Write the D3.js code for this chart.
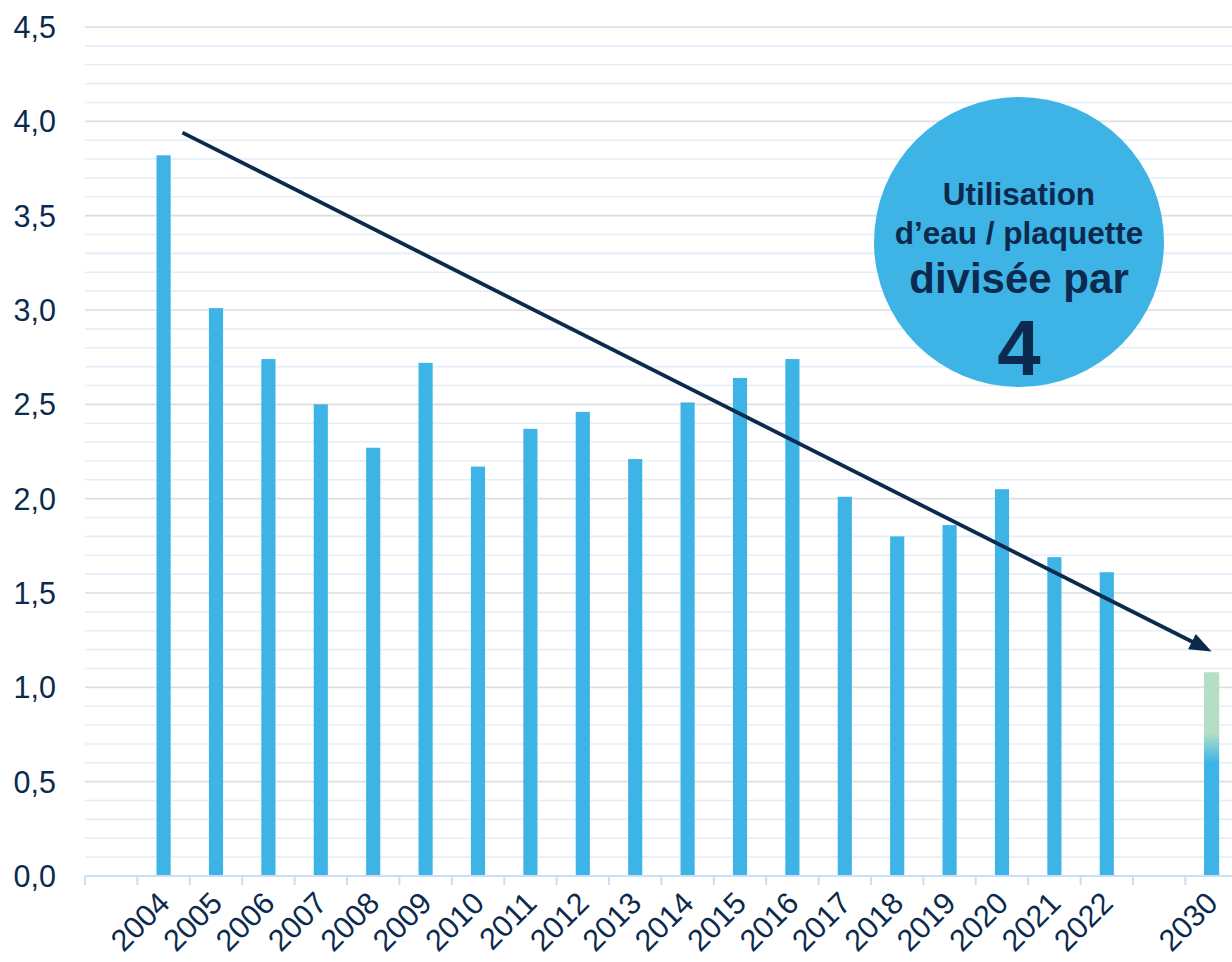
<!DOCTYPE html>
<html>
<head>
<meta charset="utf-8">
<script src="https://cdn.jsdelivr.net/npm/d3@7"></script>
<style>
  body { margin: 0; background: #fff; }
  text { font-family: "Liberation Sans", Arial, sans-serif; }
</style>
</head>
<body>
<svg id="chart" width="1232" height="962"></svg>
<script>
// categories on the x axis ('_' entries are empty slots)
var categories = ['_a', '2004', '2005', '2006', '2007', '2008', '2009', '2010', '2011', '2012',
  '2013', '2014', '2015', '2016', '2017', '2018', '2019', '2020', '2021', '2022', '_b', '2030'];

var historyYears = ['2004', '2005', '2006', '2007', '2008', '2009', '2010', '2011', '2012', '2013',
  '2014', '2015', '2016', '2017', '2018', '2019', '2020', '2021', '2022'];
var historyValues = [3.82, 3.01, 2.74, 2.50, 2.27, 2.72, 2.17, 2.37, 2.46, 2.21,
  2.51, 2.64, 2.74, 2.01, 1.80, 1.86, 2.05, 1.69, 1.61];

var targetYear = '2030';
var targetBase = 0.6;
var targetFade = 0.76;
var targetTop = 1.08;

var yTicks = [0, 0.5, 1, 1.5, 2, 2.5, 3, 3.5, 4, 4.5];

var trend = [
  { year: '2004', frac: 0.86, value: 3.94 },
  { year: '2030', frac: 0.5, value: 1.19 }
];

var bubbleLines = [
  { text: 'Utilisation', size: 31.5, dy: -37 },
  { text: 'd\u2019eau / plaquette', size: 31.5, dy: 2 },
  { text: 'divisée par', size: 42, dy: 51 },
  { text: '4', size: 78, dy: 133 }
];

var blue = '#3db4e5';
var navy = '#0c2a4d';

var svg = d3.select('#chart');
var left = 85;

var x = d3.scaleBand()
  .domain(categories)
  .range([left, left + 52.4 * categories.length])
  .paddingInner(0.73)
  .paddingOuter(0.365);

var y = d3.scaleLinear().domain([0, 4.5]).range([876, 27]);

// gridlines
var minor = d3.range(0, 45).map(function (i) { return i / 10; })
  .filter(function (v) { return Math.round(v * 10) % 5 !== 0; });

svg.append('g').selectAll('line.minor')
  .data(minor)
  .enter().append('line')
  .attr('x1', left).attr('x2', 1232)
  .attr('y1', function (d) { return y(d); })
  .attr('y2', function (d) { return y(d); })
  .attr('stroke', '#e4eefa')
  .attr('stroke-width', 1.6);

svg.append('g').selectAll('line.major')
  .data(yTicks.filter(function (d) { return d > 0; }))
  .enter().append('line')
  .attr('x1', left).attr('x2', 1232)
  .attr('y1', function (d) { return y(d); })
  .attr('y2', function (d) { return y(d); })
  .attr('stroke', '#dedede')
  .attr('stroke-width', 1.6);

// y labels
svg.append('g').selectAll('text')
  .data(yTicks)
  .enter().append('text')
  .attr('x', 56)
  .attr('y', function (d) { return y(d) + 11; })
  .attr('text-anchor', 'end')
  .attr('font-size', 30.5)
  .attr('fill', navy)
  .text(function (d) { return d3.format('.1f')(d).replace('.', ','); });

// gradient for the 2030 target
var defs = svg.append('defs');
var grad = defs.append('linearGradient')
  .attr('id', 'target')
  .attr('x1', 0).attr('y1', 0).attr('x2', 0).attr('y2', 1);
var span = targetTop;
grad.append('stop').attr('offset', (targetTop - targetFade) / span).attr('stop-color', '#b4dfc6');
grad.append('stop').attr('offset', (targetTop - targetBase) / span).attr('stop-color', blue);
grad.append('stop').attr('offset', 1).attr('stop-color', blue);

// bars
svg.append('g').selectAll('rect')
  .data(historyYears)
  .enter().append('rect')
  .attr('x', function (d) { return x(d); })
  .attr('width', x.bandwidth())
  .attr('y', function (d, i) { return y(historyValues[i]); })
  .attr('height', function (d, i) { return y(0) - y(historyValues[i]); })
  .attr('fill', blue);

svg.append('rect')
  .attr('x', x(targetYear) - 0.5)
  .attr('width', x.bandwidth() + 1)
  .attr('y', y(targetTop))
  .attr('height', y(0) - y(targetTop))
  .attr('fill', 'url(#target)');

// x axis
var y0 = y(0);
svg.append('line')
  .attr('x1', left).attr('x2', 1232)
  .attr('y1', y0).attr('y2', y0)
  .attr('stroke', '#c8defa').attr('stroke-width', 2);

svg.append('g').selectAll('line')
  .data(d3.range(0, categories.length + 1))
  .enter().append('line')
  .attr('x1', function (i) { return left + x.step() * i; })
  .attr('x2', function (i) { return left + x.step() * i; })
  .attr('y1', y0).attr('y2', y0 + 9)
  .attr('stroke', '#c8defa').attr('stroke-width', 2);

svg.append('g').selectAll('text')
  .data(categories.filter(function (c) { return c[0] !== '_'; }))
  .enter().append('text')
  .attr('transform', function (d) {
    return 'translate(' + (x(d) + x.bandwidth() / 2 + 8) + ',' + (y0 + 29) + ') rotate(-45)';
  })
  .attr('text-anchor', 'end')
  .attr('font-size', 30.5)
  .attr('fill', navy)
  .text(function (d) { return d; });

// trend arrow
var p0 = [x(trend[0].year) - x.step() * x.paddingOuter() + x.step() * trend[0].frac, y(trend[0].value)];
var p1 = [x(trend[1].year) + x.bandwidth() / 2, y(trend[1].value)];
var ang = Math.atan2(p1[1] - p0[1], p1[0] - p0[0]);
var headLen = 22, headW = 8.5;
var base = [p1[0] - headLen * Math.cos(ang), p1[1] - headLen * Math.sin(ang)];

svg.append('line')
  .attr('x1', p0[0]).attr('y1', p0[1])
  .attr('x2', base[0] + 2 * Math.cos(ang)).attr('y2', base[1] + 2 * Math.sin(ang))
  .attr('stroke', navy).attr('stroke-width', 3.8);

svg.append('path')
  .attr('d', 'M' + p1 + 'L' + [base[0] - headW * Math.sin(ang), base[1] + headW * Math.cos(ang)] +
    'L' + [base[0] + headW * Math.sin(ang), base[1] - headW * Math.cos(ang)] + 'Z')
  .attr('fill', navy);

// bubble
var cx = 1019, cy = 242;
svg.append('circle')
  .attr('cx', cx).attr('cy', cy).attr('r', 145)
  .attr('fill', blue);

svg.append('g').selectAll('text')
  .data(bubbleLines)
  .enter().append('text')
  .attr('x', cx)
  .attr('y', function (d) { return cy + d.dy; })
  .attr('text-anchor', 'middle')
  .attr('font-size', function (d) { return d.size; })
  .attr('font-weight', 'bold')
  .attr('fill', navy)
  .text(function (d) { return d.text; });
</script>
</body>
</html>
